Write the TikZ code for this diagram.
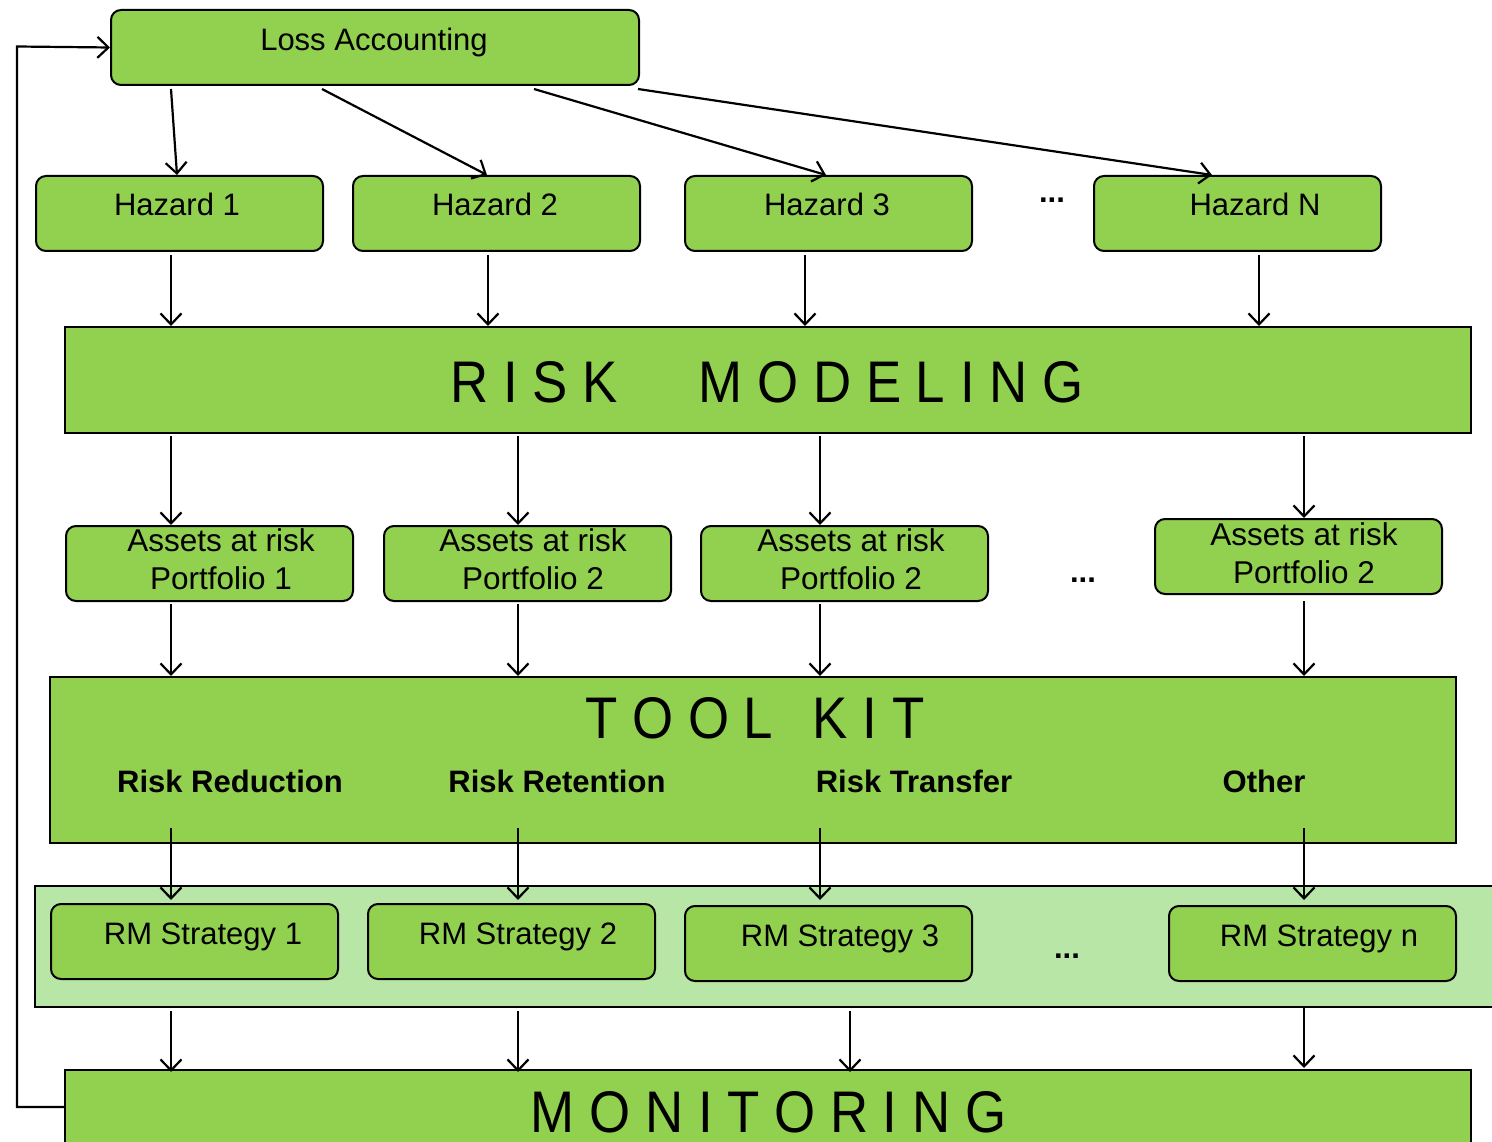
\documentclass[tikz,border=0pt]{standalone}
\usepackage{fontspec}
\setmainfont{Liberation Sans}
\usepackage{graphicx}
\usetikzlibrary{arrows.meta}
\definecolor{gr}{HTML}{92D050}
\definecolor{lgr}{HTML}{B8E6A7}
\begin{document}
\begin{tikzpicture}[x=1pt,y=-1pt,
  box/.style={draw=black, fill=gr, rounded corners=10pt, line width=2pt, inner sep=0pt, anchor=north west, minimum width=287pt, minimum height=75pt},
  bigbox/.style={draw=black, fill=gr, line width=2.2pt, inner sep=0pt, anchor=north west},
  txt/.style={font=\fontsize{31}{38}\selectfont, anchor=base, inner sep=0pt},
  txt2/.style={font=\fontsize{31.5}{38}\selectfont, anchor=center, inner sep=0pt, align=center},
  btxt/.style={font=\fontsize{31}{38}\selectfont\bfseries, anchor=base, inner sep=0pt},
  ttl/.style={font=\fontsize{58.7}{60}\selectfont, anchor=base, inner sep=0pt},
  arr/.style={line width=2.2pt, -{Straight Barb[length=11pt,width=21pt]}}
]
\useasboundingbox (0,0) rectangle (1492,1142);
\clip (0,0) rectangle (1492,1142);

% columns
\coordinate (hc1) at (171,0); \coordinate (hc2) at (488,0);
\coordinate (hc3) at (805,0); \coordinate (hc4) at (1259,0);
\coordinate (c1) at (171,0); \coordinate (c2) at (518,0);
\coordinate (c3) at (820,0); \coordinate (c4) at (1304,0);
\coordinate (m3) at (850,0);

% band
\node[draw=black, fill=lgr, line width=2.2pt, inner sep=0pt, anchor=north west, minimum width=1500pt, minimum height=121pt] (band) at (34,885) {};

% loss accounting
\node[box, minimum width=528pt] (la) at (110,9) {};
\node[txt] (tla) at (374,51) {Loss Accounting};

% hazards
\node[box] (h1) at (35,175) {};
\node[box] (h2) at (352,175) {};
\node[box] (h3) at (684,175) {};
\node[box] (h4) at (1093,175) {};
\node[txt] (th1) at (177,216) {Hazard 1};
\node[txt] (th2) at (495,216) {Hazard 2};
\node[txt] (th3) at (827,216) {Hazard 3};
\node[txt] (th4) at (1255,216) {Hazard N};
\node[btxt] (dots1) at (1052,203) {...};

% risk modeling
\node[bigbox, minimum width=1406pt, minimum height=106pt] (rm) at (64,326) {};
\node[ttl] (trm) at (767,402) {\scalebox{0.9}[1]{R I S K\hspace{1.53em}M O D E L I N G}};

% assets
\node[box] (a1) at (65,525) {};
\node[box] (a2) at (383,525) {};
\node[box] (a3) at (700,525) {};
\node[box] (a4) at (1154,518) {};
\node[txt2] (ta1) at (221,559) {Assets at risk\\Portfolio 1};
\node[txt2] (ta2) at (533,559) {Assets at risk\\Portfolio 2};
\node[txt2] (ta3) at (851,559) {Assets at risk\\Portfolio 2};
\node[txt2] (ta4) at (1304,553) {Assets at risk\\Portfolio 2};
\node[btxt] (dots2) at (1083,582) {...};

% tool kit
\node[bigbox, minimum width=1406pt, minimum height=166pt] (tk) at (49,676) {};
\node[ttl] (ttk) at (755,738) {\scalebox{0.9}[1]{T O O L\hspace{0.75em}K I T}};
\node[btxt] (r1) at (230,792) {Risk Reduction};
\node[btxt] (r2) at (557,792) {Risk Retention};
\node[btxt] (r3) at (914,792) {Risk Transfer};
\node[btxt] (r4) at (1264,792) {Other};
\coordinate (tkin) at ([yshift=16pt]tk.south);

% strategies
\node[box] (s1) at (50,903) {};
\node[box] (s2) at (367,903) {};
\node[box] (s3) at (684,905) {};
\node[box] (s4) at (1168,905) {};
\node[txt] (ts1) at (203,944) {RM Strategy 1};
\node[txt] (ts2) at (518,944) {RM Strategy 2};
\node[txt] (ts3) at (840,946) {RM Strategy 3};
\node[txt] (ts4) at (1319,946) {RM Strategy n};
\node[btxt] (dots3) at (1067,958) {...};

% monitoring
\node[bigbox, minimum width=1406pt, minimum height=110pt] (mon) at (64,1069) {};
\node[ttl] (tmon) at (768.5,1132) {\scalebox{0.9}[1]{M O N I T O R I N G}};

% connectors: loss accounting to hazards
\draw[arr] ([xshift=61pt,yshift=-3pt]la.south west) -- ([xshift=142pt]h1.north west);
\draw[arr] ([xshift=212pt,yshift=-3pt]la.south west) -- ([xshift=135pt]h2.north west);
\draw[arr] ([xshift=424pt,yshift=-3pt]la.south west) -- ([xshift=142pt]h3.north west);
\draw[arr] ([xshift=528pt,yshift=-3pt]la.south west) -- ([xshift=119pt]h4.north west);

% hazards to risk modeling
\draw[arr, shorten <=3pt] (h1.south -| hc1) -- (rm.north -| hc1);
\draw[arr, shorten <=3pt] (h2.south -| hc2) -- (rm.north -| hc2);
\draw[arr, shorten <=3pt] (h3.south -| hc3) -- (rm.north -| hc3);
\draw[arr, shorten <=3pt] (h4.south -| hc4) -- (rm.north -| hc4);

% risk modeling to assets
\draw[arr, shorten <=2pt] (rm.south -| c1) -- (a1.north -| c1);
\draw[arr, shorten <=2pt] (rm.south -| c2) -- (a2.north -| c2);
\draw[arr, shorten <=2pt] (rm.south -| c3) -- (a3.north -| c3);
\draw[arr, shorten <=2pt] (rm.south -| c4) -- (a4.north -| c4);

% assets to tool kit
\draw[arr, shorten <=2pt] (a1.south -| c1) -- (tk.north -| c1);
\draw[arr, shorten <=2pt] (a2.south -| c2) -- (tk.north -| c2);
\draw[arr, shorten <=2pt] (a3.south -| c3) -- (tk.north -| c3);
\draw[arr, shorten <=6pt] (a4.south -| c4) -- (tk.north -| c4);

% tool kit to strategies
\draw[arr, shorten >=3pt] (tkin -| c1) -- (s1.north -| c1);
\draw[arr, shorten >=3pt] (tkin -| c2) -- (s2.north -| c2);
\draw[arr, shorten >=5pt] (tkin -| c3) -- (s3.north -| c3);
\draw[arr, shorten >=5pt] (tkin -| c4) -- (s4.north -| c4);

% strategies to monitoring
\draw[arr, shorten <=3pt, shorten >=-3pt] (band.south -| c1) -- (mon.north -| c1);
\draw[arr, shorten <=3pt, shorten >=-3pt] (band.south -| c2) -- (mon.north -| c2);
\draw[arr, shorten <=3pt, shorten >=-3pt] (band.south -| m3) -- (mon.north -| m3);
\draw[arr, shorten >=1pt] (band.south -| c4) -- (mon.north -| c4);

% feedback loop
\coordinate (fb) at (17,46.5);
\draw[arr] ([yshift=-38pt]mon.north west) -| (fb) -- (la.west);
\end{tikzpicture}
\end{document}
